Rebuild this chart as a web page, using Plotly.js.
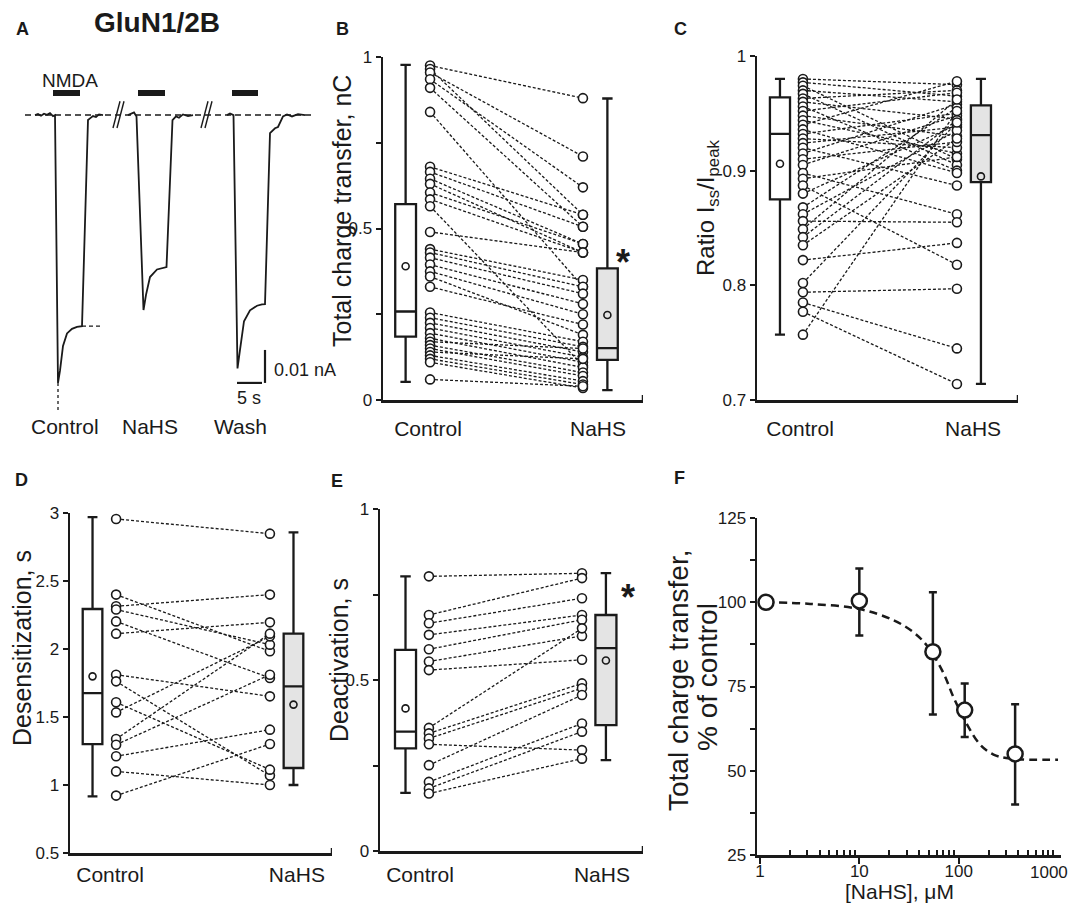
<!DOCTYPE html>
<html><head><meta charset="utf-8">
<script src="https://cdn.plot.ly/plotly-3.0.1.min.js"></script>
<style>html,body{margin:0;padding:0;background:#fff;} #chart{width:1070px;height:903px;}</style>
</head><body><div id="chart"></div>
<script>
// ================= DATA =================
const groups = ['Control', 'NaHS'];
const traceLabels = ['Control', 'NaHS', 'Wash'];

const ctrlT = [3.0, 3.6, 4.2, 4.8, 5.4, 6.0, 6.6, 7.0, 7.6, 8.0, 8.6, 9.4, 10.4, 11.4, 12.4, 13.6, 14.0, 14.6, 15.2, 15.8, 16.6];
const ctrlI = [0, 0.0003, -0.0002, 0.0004, 0.0001, 0.0006, -0.0003, 0.0000, -0.0812, -0.0775, -0.0700, -0.0662, -0.0648, -0.0642, -0.0640, -0.0015, -0.0010, -0.0003, -0.0006, 0.0002, 0];
const nahsT = [21.6, 22.2, 22.8, 23.3, 24.7, 25.2, 26.0, 27.4, 28.4, 29.3, 30.5, 31.2, 31.8, 32.6, 33.6, 34.6];
const nahsI = [0, 0.0004, 0.0008, -0.0004, -0.0591, -0.0545, -0.0491, -0.0468, -0.0465, -0.0461, -0.0015, -0.0004, -0.0008, 0.0002, -0.0003, 0];
const washT = [41.4, 42.0, 42.7, 43.5, 44.0, 44.8, 46.0, 47.4, 48.4, 49.0, 50.0, 51.0, 51.6, 52.6, 53.4, 54.4, 55.6, 57.0];
const washI = [0, 0.0005, 0.0000, -0.0768, -0.0712, -0.0625, -0.0592, -0.0578, -0.0574, -0.0573, -0.0055, -0.0040, -0.0036, -0.0004, 0.0002, -0.0004, 0.0003, 0];
const nmdaStart = [6.6, 23.6, 42.4];
const nmdaEnd = [12.0, 29.0, 47.6];
const scaleCurrent = 0.01; // nA
const scaleTime = 5;       // s

// Panel B: total charge transfer, nC
const bCtrl = [0.975,0.965,0.955,0.935,0.91,0.84,0.68,0.665,0.645,0.63,0.605,0.585,0.565,0.49,0.44,0.43,0.415,0.395,0.375,0.36,0.33,0.255,0.24,0.225,0.21,0.195,0.18,0.17,0.16,0.15,0.14,0.13,0.12,0.11,0.06];
const bNahs = [0.88,0.54,0.71,0.62,0.505,0.33,0.54,0.505,0.455,0.43,0.455,0.43,0.10,0.43,0.35,0.33,0.31,0.28,0.25,0.19,0.22,0.17,0.155,0.14,0.125,0.11,0.095,0.15,0.08,0.07,0.12,0.055,0.045,0.035,0.04];
const bQ1 = [0.185, 0.117], bMed = [0.258, 0.151], bQ3 = [0.571, 0.384], bLo = [0.053, 0.029], bHi = [0.977, 0.879], bMean = [0.39, 0.248];

// Panel C: ratio Iss/Ipeak
const cCtrl = [0.980,0.977,0.974,0.970,0.967,0.963,0.960,0.956,0.952,0.948,0.944,0.940,0.936,0.932,0.928,0.924,0.920,0.915,0.910,0.905,0.898,0.893,0.887,0.880,0.868,0.862,0.856,0.849,0.842,0.835,0.822,0.802,0.794,0.785,0.777,0.757];
const cNahs = [0.975,0.965,0.910,0.960,0.905,0.970,0.945,0.900,0.968,0.930,0.915,0.978,0.898,0.950,0.920,0.938,0.887,0.958,0.925,0.948,0.862,0.912,0.818,0.940,0.955,0.935,0.855,0.962,0.944,0.928,0.837,0.942,0.797,0.745,0.714,0.952];
const cQ1 = [0.875, 0.890], cMed = [0.932, 0.931], cQ3 = [0.964, 0.957], cLo = [0.757, 0.714], cHi = [0.980, 0.980], cMean = [0.906, 0.895];

// Panel D: desensitization, s
const dCtrl = [2.956, 2.40, 2.314, 2.29, 2.203, 2.113, 1.811, 1.762, 1.608, 1.534, 1.338, 1.296, 1.211, 1.10, 0.922];
const dNahs = [2.848, 1.983, 2.40, 2.032, 1.787, 2.196, 1.652, 1.069, 1.113, 2.093, 2.113, 1.811, 1.407, 1.0, 1.301];
const dQ1 = [1.301, 1.125], dMed = [1.676, 1.725], dQ3 = [2.294, 2.113], dLo = [0.917, 1.0], dHi = [2.97, 2.858], dMean = [1.799, 1.591];

// Panel E: deactivation, s
const eCtrl = [0.803,0.690,0.666,0.632,0.590,0.554,0.529,0.360,0.344,0.329,0.312,0.251,0.202,0.183,0.168];
const eNahs = [0.812,0.798,0.739,0.690,0.676,0.629,0.559,0.651,0.490,0.476,0.295,0.456,0.373,0.349,0.270];
const eQ1 = [0.300, 0.368], eMed = [0.349, 0.593], eQ3 = [0.588, 0.690], eLo = [0.170, 0.266], eHi = [0.803, 0.8125], eMean = [0.417, 0.557];

// Panel F: concentration-response
const fConc = [1.15, 10, 55, 115, 370];
const fMean = [100, 100.4, 85.3, 68, 55];
const fErrUp = [0, 9.6, 17.7, 7.9, 14.7];
const fErrDown = [0, 10.3, 18.6, 8, 15];
const fitConc = [1.15, 3.2, 10, 22, 35, 48, 70, 89, 121, 164, 224, 330, 1000];
const fitVal = [100, 99.5, 98.0, 94.7, 91.1, 87.1, 79.1, 71.7, 63.8, 57.8, 54.8, 53.6, 53.3];
const fTicks = [1, 10, 100];
const fTickText = ['1', '10', '100'];
const fLastTick = 1000;
const fLastTickText = '1000';

// ================= BUILD =================
const W = 1070, H = 903;
const px = v => v / W;
const py = v => 1 - v / H;
const INK = '#1a1a1a';
const SANS = '"Liberation Sans", Arial, Helvetica, sans-serif';
const TICKFONT = {family: SANS, size: 17, color: INK};

const traces = [];
const annotations = [];
const shapes = [];
const layout = {
  width: W, height: H, margin: {l: 0, r: 0, t: 0, b: 0},
  paper_bgcolor: 'white', plot_bgcolor: 'rgba(0,0,0,0)',
  showlegend: false, boxmode: 'overlay',
  font: {family: SANS, color: INK},
  annotations, shapes
};

function ax(k) { return k === 1 ? '' : String(k); }

function setAxes(k, xd, yd, xopt, yopt) {
  const base = {showgrid: false, zeroline: false, showline: true, linecolor: INK, linewidth: 2.5, fixedrange: true};
  layout['xaxis' + ax(k)] = Object.assign({}, base, {domain: [px(xd[0]), px(xd[1])], anchor: 'y' + ax(k)}, xopt);
  layout['yaxis' + ax(k)] = Object.assign({}, base, {domain: [py(yd[1]), py(yd[0])], anchor: 'x' + ax(k)}, yopt);
}

function ann(text, x, y, size, opts) {
  annotations.push(Object.assign({
    text, x: px(x), y: py(y), xref: 'paper', yref: 'paper', showarrow: false,
    xanchor: 'center', yanchor: 'middle', font: {family: SANS, size, color: INK}
  }, opts || {}));
}

// ---- paired box panels ----
function pairedPanel(k, cfg) {
  const xa = 'x' + ax(k), ya = 'y' + ax(k);
  const yopt = {range: cfg.yrange, tickmode: 'array', tickvals: cfg.tickvals, ticks: 'outside',
     ticklen: 5, tickwidth: 2, tickcolor: INK, tickfont: TICKFONT};
  if (cfg.minor) yopt.minor = {tickmode: 'array', tickvals: cfg.minor, ticks: 'outside', ticklen: 5, tickwidth: 2, tickcolor: INK};
  setAxes(k, cfg.xd, cfg.yd,
    {range: [0, 10], tickmode: 'array', tickvals: cfg.labelPos, ticktext: groups, ticks: '',
     tickfont: {family: SANS, size: 21, color: INK}, ticklabelstandoff: cfg.labStand}, yopt);
  shapes.push({type: 'line', xref: xa, yref: ya, x0: 10, x1: 10, ysizemode: 'pixel', yanchor: cfg.yrange[0],
    y0: -4, y1: 5, line: {color: INK, width: 2.5}});
  const fills = ['white', '#e4e4e4'];
  for (let g = 0; g < 2; g++) {
    traces.push({type: 'box', xaxis: xa, yaxis: ya, x: [cfg.boxPos[g]],
      q1: [cfg.q1[g]], median: [cfg.med[g]], q3: [cfg.q3[g]], lowerfence: [cfg.lo[g]], upperfence: [cfg.hi[g]],
      width: cfg.boxW, whiskerwidth: 0.5, fillcolor: fills[g], line: {color: INK, width: 2.3},
      boxpoints: false, hoverinfo: 'skip', name: groups[g]});
  }
  const lx = [], ly = [];
  cfg.ctrl.forEach((v, i) => { lx.push(cfg.ptPos[0], cfg.ptPos[1], null); ly.push(v, cfg.nahs[i], null); });
  traces.push({type: 'scatter', mode: 'lines', xaxis: xa, yaxis: ya, x: lx, y: ly, hoverinfo: 'skip',
    line: {color: INK, width: 1.3, dash: '3px,2px'}});
  [cfg.ctrl, cfg.nahs].forEach((arr, g) => {
    traces.push({type: 'scatter', mode: 'markers', xaxis: xa, yaxis: ya, cliponaxis: false,
      x: arr.map(() => cfg.ptPos[g]), y: arr, name: groups[g],
      marker: {symbol: 'circle', size: cfg.mSize, color: 'white', line: {color: INK, width: 1.6}}});
  });
  traces.push({type: 'scatter', mode: 'markers', xaxis: xa, yaxis: ya, cliponaxis: false,
    x: cfg.boxPos, y: cfg.mean, hoverinfo: 'skip',
    marker: {symbol: 'circle', size: 7, color: 'rgba(0,0,0,0)', line: {color: INK, width: 1.6}}});
}

pairedPanel(2, {xd: [383, 643], yd: [57, 400], yrange: [0, 1],
  tickvals: [0, 0.5, 1], minor: [0.25, 0.75],
  labelPos: [1.73, 8.27], labStand: 8, boxPos: [0.87, 8.63], ptPos: [1.81, 7.69], boxW: 0.8, mSize: 9,
  ctrl: bCtrl, nahs: bNahs, q1: bQ1, med: bMed, q3: bQ3, lo: bLo, hi: bHi, mean: bMean});

pairedPanel(3, {xd: [757, 1018], yd: [56, 400], yrange: [0.7, 1],
  tickvals: [0.7, 0.8, 0.9, 1],
  labelPos: [1.65, 8.28], labStand: 8, boxPos: [0.88, 8.58], ptPos: [1.76, 7.66], boxW: 0.77, mSize: 9,
  ctrl: cCtrl, nahs: cNahs, q1: cQ1, med: cMed, q3: cQ3, lo: cLo, hi: cHi, mean: cMean});

pairedPanel(4, {xd: [70, 332], yd: [513, 853], yrange: [0.5, 3],
  tickvals: [0.5, 1, 1.5, 2, 2.5, 3],
  labelPos: [1.53, 8.66], labStand: 1, boxPos: [0.86, 8.53], ptPos: [1.76, 7.63], boxW: 0.75, mSize: 9,
  ctrl: dCtrl, nahs: dNahs, q1: dQ1, med: dMed, q3: dQ3, lo: dLo, hi: dHi, mean: dMean});

pairedPanel(5, {xd: [380, 643], yd: [509, 851], yrange: [0, 1],
  tickvals: [0, 0.5, 1], minor: [0.25, 0.75],
  labelPos: [1.52, 8.44], labStand: 3, boxPos: [0.97, 8.59], ptPos: [1.86, 7.68], boxW: 0.8, mSize: 9,
  ctrl: eCtrl, nahs: eNahs, q1: eQ1, med: eMed, q3: eQ3, lo: eLo, hi: eHi, mean: eMean});

// ---- Panel A ----
setAxes(1, [20, 335], [60, 440], {range: [0, 63], visible: false}, {range: [-0.0985, 0.0167], visible: false});
shapes.push({type: 'line', xref: 'x', yref: 'y', x0: 1, x1: 59, y0: 0, y1: 0, layer: 'below',
  line: {color: INK, width: 1.5, dash: '6px,4px'}});
[[ctrlT, ctrlI], [nahsT, nahsI], [washT, washI]].forEach((tr, i) => {
  traces.push({type: 'scatter', mode: 'lines', xaxis: 'x', yaxis: 'y', x: tr[0], y: tr[1], name: traceLabels[i],
    line: {color: INK, width: 1.8}, hoverinfo: 'skip'});
});
{
  const bx = [], by = [];
  nmdaStart.forEach((s, i) => { bx.push(s, nmdaEnd[i], null); by.push(0.0067, 0.0067, null); });
  traces.push({type: 'scatter', mode: 'lines', xaxis: 'x', yaxis: 'y', x: bx, y: by, hoverinfo: 'skip',
    line: {color: INK, width: 6}});
}
const peakCtrl = Math.min(...ctrlI);
const plateauCtrl = ctrlI[14];
shapes.push({type: 'line', xref: 'x', yref: 'y', x0: ctrlT[8], x1: ctrlT[8], y0: peakCtrl, y1: peakCtrl - 0.0082,
  line: {color: INK, width: 1.3, dash: 'dot'}});
shapes.push({type: 'line', xref: 'x', yref: 'y', x0: ctrlT[14], x1: ctrlT[20], y0: plateauCtrl, y1: plateauCtrl,
  line: {color: INK, width: 1.3, dash: '4px,3px'}});
[[18.6, 20.0], [19.4, 20.8], [36.2, 37.6], [37.0, 38.4]].forEach(b => {
  shapes.push({type: 'line', xref: 'x', yref: 'y', x0: b[0], x1: b[1], y0: -0.0039, y1: 0.0042,
    line: {color: INK, width: 1.4}});
});
shapes.push({type: 'line', xref: 'x', yref: 'y', x0: 49, x1: 49, y0: -0.0812, y1: -0.0812 + scaleCurrent,
  line: {color: INK, width: 2.2}});
shapes.push({type: 'line', xref: 'x', yref: 'y', x0: 43.4, x1: 43.4 + scaleTime, y0: -0.0812, y1: -0.0812,
  line: {color: INK, width: 2.2}});
ann('0.01 nA', 272, 370, 18, {xanchor: 'left'});
ann('5 s', 249, 398, 18);
ann('NMDA', 70, 80, 19);
ann('<b>GluN1/2B</b>', 157, 23, 28);
[65, 150, 240].forEach((x, i) => ann(traceLabels[i], x, 427, 21));

// ---- Panel F ----
setAxes(6, [757, 1061], [518, 855],
  {type: 'log', range: [-0.03, 3.03], tickmode: 'array', tickvals: fTicks, ticktext: fTickText,
   ticks: 'outside', ticklen: 6, tickwidth: 2, tickcolor: INK, tickfont: TICKFONT, ticklabelstandoff: -7,
   minor: {tickmode: 'array', tickvals: [2,3,4,5,6,7,8,9,20,30,40,50,60,70,80,90,200,300,400,500,600,700,800,900],
           ticks: 'inside', ticklen: 5, tickwidth: 2, tickcolor: INK}},
  {range: [25, 125], tickmode: 'array', tickvals: [25, 50, 75, 100, 125], ticks: 'outside', ticklen: 5, tickwidth: 2,
   tickcolor: INK, tickfont: TICKFONT,
   minor: {tickmode: 'array', tickvals: [37.5, 62.5, 87.5, 112.5], ticks: 'outside', ticklen: 5, tickwidth: 2, tickcolor: INK}});
// last decade tick (label nudged inside the page as in the reference)
shapes.push({type: 'line', xref: 'x6', yref: 'y6', x0: fLastTick, x1: fLastTick, ysizemode: 'pixel', yanchor: 25,
  y0: -8, y1: -1, line: {color: INK, width: 2}});
annotations.push({text: fLastTickText, xref: 'x6', x: Math.log10(fLastTick), xshift: -9, yref: 'paper', y: py(872),
  showarrow: false, xanchor: 'center', yanchor: 'middle', font: TICKFONT});
traces.push({type: 'scatter', mode: 'lines', xaxis: 'x6', yaxis: 'y6', x: fitConc, y: fitVal, hoverinfo: 'skip',
  line: {color: INK, width: 2.5, dash: '8px,5px', shape: 'spline'}});
traces.push({type: 'scatter', mode: 'markers', xaxis: 'x6', yaxis: 'y6', x: fConc, y: fMean, cliponaxis: false,
  marker: {symbol: 'circle', size: 15, color: 'white', line: {color: INK, width: 2.5}},
  error_y: {type: 'data', symmetric: false, array: fErrUp, arrayminus: fErrDown, thickness: 2.5, width: 4, color: INK}});
ann('[NaHS], μM', 899, 891, 21);
ann('Total charge transfer,', 678, 681, 28, {textangle: -90});
ann('% of control', 707, 677, 28, {textangle: -90});

// ---- y titles ----
ann('Total charge transfer, nC', 342, 211, 25, {textangle: -90});
ann('Ratio I<sub>ss</sub>/I<sub>peak</sub>', 707, 208, 24, {textangle: -90});
ann('Desensitization, s', 22, 648, 25, {textangle: -90});
ann('Deactivation, s', 339, 660, 25, {textangle: -90});

// asterisks
ann('<b>*</b>', 623, 262, 36);
ann('<b>*</b>', 628, 597, 36);

// panel letters
[['A', 22, 29], ['B', 342, 29], ['C', 680, 29], ['D', 21, 480], ['E', 337, 481], ['F', 679, 478]].forEach(l =>
  ann('<b>' + l[0] + '</b>', l[1], l[2], 18));

Plotly.newPlot('chart', traces, layout, {staticPlot: true, displayModeBar: false});
</script>
</body></html>
